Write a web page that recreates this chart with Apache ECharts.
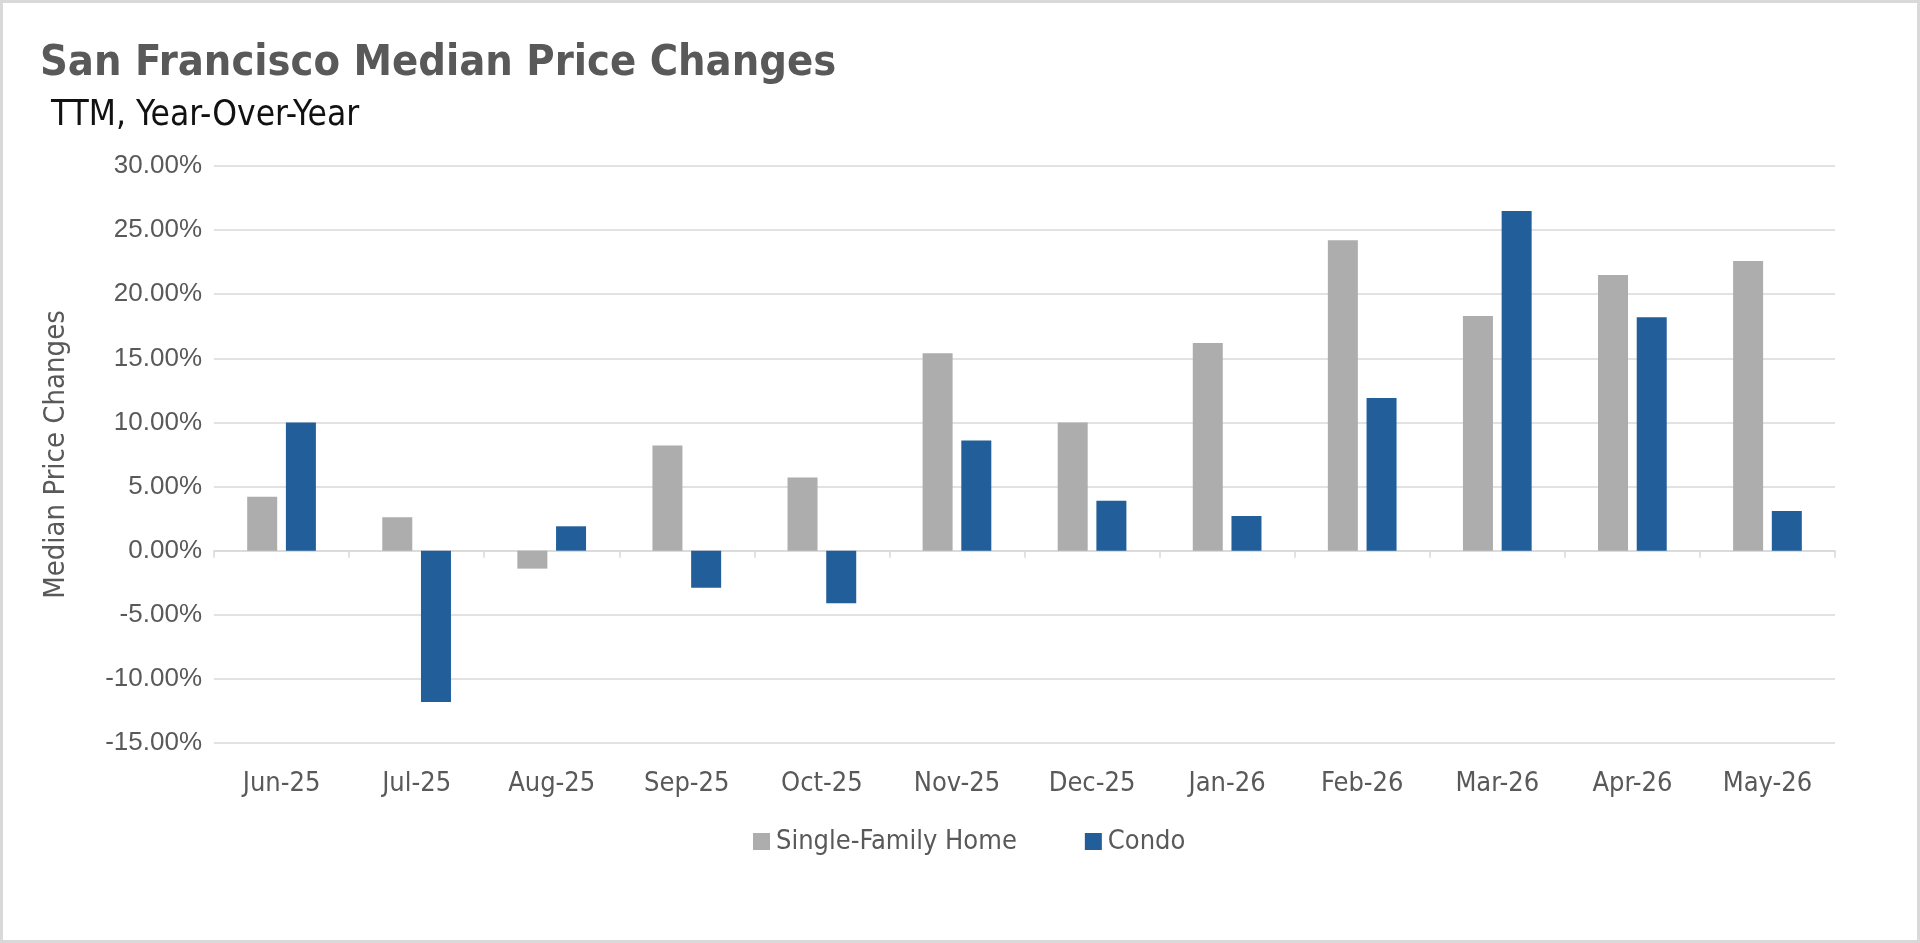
<!DOCTYPE html>
<html>
<head>
<meta charset="utf-8">
<title>San Francisco Median Price Changes</title>
<script src="https://cdn.jsdelivr.net/npm/echarts@6/dist/echarts.min.js"></script>
<style>
    html, body { margin: 0; padding: 0; background: #fff; }
    #chartDom {
        width: 1920px;
        height: 943px;
        box-sizing: border-box;
        border: 3px solid #d9d9d9;
    }
</style>
</head>
<body>
<div id="chartDom"></div>
<script>
// 月份
const months = ['Jun-25', 'Jul-25', 'Aug-25', 'Sep-25', 'Oct-25', 'Nov-25', 'Dec-25', 'Jan-26', 'Feb-26', 'Mar-26', 'Apr-26', 'May-26'];
// 单户住宅 (%)
const singleFamily = [4.2, 2.6, -1.4, 8.2, 5.7, 15.4, 10.0, 16.2, 24.2, 18.3, 21.5, 22.6];
// 公寓 (%)
const condo = [10.0, -11.8, 1.9, -2.9, -4.1, 8.6, 3.9, 2.7, 11.9, 26.5, 18.2, 3.1];
const yMin = -15, yMax = 30, yStep = 5;

const narrow = "'Liberation Sans Narrow', 'DejaVu Sans Condensed', 'Roboto', sans-serif";
const textGray = '#595959';
const gridGray = '#d9d9d9';

const chartInstance = echarts.init(document.getElementById('chartDom'));

const option = {
    animation: false,
    title: [{
        text: 'San Francisco Median Price Changes',
        left: 32,
        top: 34,
        textStyle: { color: textGray, fontFamily: narrow, fontWeight: 'bold', fontSize: 43 }
    }, {
        text: 'TTM, Year-Over-Year',
        left: 43,
        top: 90,
        textStyle: { color: '#111', fontFamily: narrow, fontWeight: 'normal', fontSize: 35 }
    }],
    legend: {
        bottom: 80,
        left: 745,
        itemWidth: 17,
        itemHeight: 17,
        itemGap: 68,
        icon: 'rect',
        textStyle: { color: textGray, fontFamily: narrow, fontSize: 27, padding: [0, 0, 0, 1] },
        data: ['Single-Family Home', 'Condo']
    },
    grid: { left: 211, right: 82, top: 163, bottom: 197 },
    xAxis: [{
        type: 'category',
        data: months,
        position: 'bottom',
        axisLine: { show: false, onZero: false },
        axisTick: { show: false },
        axisLabel: { color: textGray, fontFamily: narrow, fontSize: 27, margin: 27 }
    }, {
        type: 'category',
        data: months,
        position: 'bottom',
        axisLine: { onZero: true, lineStyle: { color: gridGray, width: 1.5 } },
        axisTick: { show: true, length: 7, lineStyle: { color: gridGray, width: 1.5 } },
        axisLabel: { show: false }
    }],
    yAxis: {
        type: 'value',
        min: yMin,
        max: yMax,
        interval: yStep,
        name: 'Median Price Changes',
        nameLocation: 'middle',
        nameGap: 143,
        nameTextStyle: { color: textGray, fontFamily: narrow, fontSize: 29 },
        axisLine: { show: false },
        axisTick: { show: false },
        axisLabel: {
            color: textGray,
            fontFamily: "'Liberation Sans', Arial, sans-serif",
            fontSize: 26,
            margin: 12,
            formatter: (v) => v.toFixed(2) + '%'
        },
        splitLine: { lineStyle: { color: gridGray, width: 1.5 } }
    },
    series: [{
        name: 'Single-Family Home',
        type: 'bar',
        data: singleFamily,
        barWidth: 30,
        barGap: '29%',
        itemStyle: { color: '#adadad' }
    }, {
        name: 'Condo',
        type: 'bar',
        data: condo,
        barWidth: 30,
        barGap: '29%',
        itemStyle: { color: '#215e9a' }
    }]
};

chartInstance.setOption(option);
</script>
</body>
</html>
